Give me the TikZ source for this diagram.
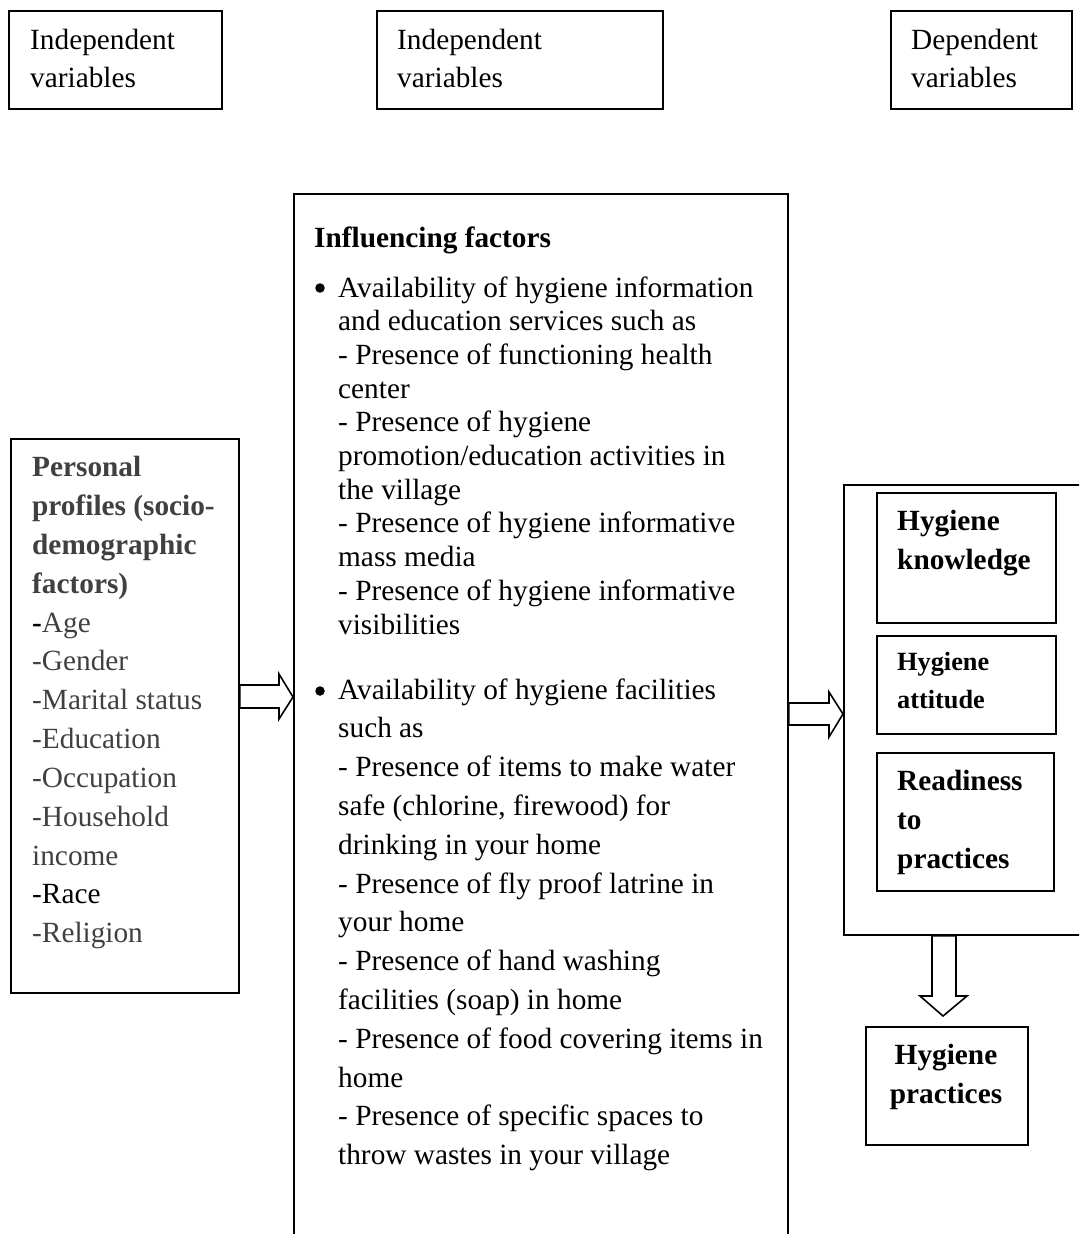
\documentclass[tikz,border=0pt]{standalone}
\usepackage{fontspec}
\setmainfont{Liberation Serif}
\definecolor{txtgray}{RGB}{64,64,64}
\begin{document}
\begin{tikzpicture}[x=1pt,y=-1pt,
  box/.style={draw,line width=1.8pt,rectangle,inner sep=0pt,anchor=north west},
  ln/.style={anchor=base west,inner sep=0pt,font=\fontsize{29.3}{34}\selectfont},
  bln/.style={anchor=base west,inner sep=0pt,font=\fontsize{29.3}{34}\selectfont\bfseries},
  sbln/.style={anchor=base west,inner sep=0pt,font=\fontsize{26.3}{30}\selectfont\bfseries},
  gln/.style={ln,text=txtgray},
  gbln/.style={bln,text=txtgray},
  bul/.style={circle,fill,inner sep=0pt,minimum size=9.5pt},
  fat/.style={draw,line width=1.6pt,fill=white,line join=miter}]
\useasboundingbox (0,0) rectangle (1079,1234);
\clip (0,0) rectangle (1079,1234);

% header boxes
\node[box,minimum width=213pt,minimum height=98pt] (iv1) at (8,10) {};
\node[box,minimum width=286pt,minimum height=98pt] (iv2) at (376,10) {};
\node[box,minimum width=181pt,minimum height=98pt] (dv) at (890,10) {};
\node[ln] (t1a) at (30,49) {Independent};
\node[ln] (t1b) at (30,87) {variables};
\node[ln] (t2a) at (397,49) {Independent};
\node[ln] (t2b) at (397,87) {variables};
\node[ln] (t3a) at (911,49) {Dependent};
\node[ln] (t3b) at (911,87) {variables};

% main boxes
\node[box,minimum width=228pt,minimum height=554pt] (pp) at (10,438) {};
\node[box,minimum width=494pt,minimum height=1100pt] (inf) at (293,193) {};
\node[box,minimum width=300pt,minimum height=450pt] (out) at (843,484) {};
\node[box,minimum width=179pt,minimum height=130pt] (kn) at (876,492) {};
\node[box,minimum width=179pt,minimum height=98pt] (at) at (876,635) {};
\node[box,minimum width=177pt,minimum height=138pt] (rd) at (876,752) {};
\node[box,minimum width=162pt,minimum height=118pt] (hp) at (865,1026) {};

% arrows
\draw[fat] (pp.east |- 0,685) -- (279,685) -- (279,674) -- (inf.west |- 0,697)
  -- (279,719) -- (279,708) -- (pp.east |- 0,708) -- cycle;
\draw[fat] (inf.east |- 0,703) -- (829,703) -- (829,692) -- (out.west |- 0,714)
  -- (829,737) -- (829,725) -- (inf.east |- 0,725) -- cycle;
\draw[fat] (932,0 |- out.south) -- (932,996) -- (920,996) -- (943,1016)
  -- (967,996) -- (956,996) -- (956,0 |- out.south) -- cycle;

% left box text
\node[gbln] (p1) at (32,476) {Personal};
\node[gbln] (p2) at (32,515) {profiles (socio-};
\node[gbln] (p3) at (32,554) {demographic};
\node[gbln] (p4) at (32,593) {factors)};
\node[ln] (p5) at (32,632) {\textbf{-}\textcolor{txtgray}{Age}};
\node[gln] (p6) at (32,670) {-Gender};
\node[gln] (p7) at (32,709) {-Marital status};
\node[gln] (p8) at (32,748) {-Education};
\node[gln] (p9) at (32,787) {-Occupation};
\node[gln] (p10) at (32,826) {-Household};
\node[gln] (p11) at (32,865) {income};
\node[ln] (p12) at (32,903) {-Race};
\node[gln] (p13) at (32,942) {-Religion};

% middle box text
\node[bln] (ift) at (314,247) {Influencing factors};
\node[bul] (b1) at (320,288) {};
\foreach \yy/\tt [count=\i] in {
  297/{Availability of hygiene information},
  330.7/{and education services such as},
  364.4/{- Presence of functioning health},
  398.1/{center},
  431.8/{- Presence of hygiene},
  465.5/{promotion/education activities in},
  499.2/{the village},
  532.9/{- Presence of hygiene informative},
  566.6/{mass media},
  600.3/{- Presence of hygiene informative},
  634/{visibilities}}
  \node[ln] (ma\i) at (338,\yy) {\tt};
\node[bul] (b2) at (320,691) {};
\foreach \yy/\tt [count=\i] in {
  699/{Availability of hygiene facilities},
  737.8/{such as},
  776.6/{- Presence of items to make water},
  815.4/{safe (chlorine, firewood) for},
  854.2/{drinking in your home},
  893/{- Presence of fly proof latrine in},
  931.8/{your home},
  970.6/{- Presence of hand washing},
  1009.4/{facilities (soap) in home},
  1048.2/{- Presence of food covering items in},
  1087/{home},
  1125.8/{- Presence of specific spaces to},
  1164.6/{throw wastes in your village}}
  \node[ln] (mb\i) at (338,\yy) {\tt};

% right box text
\node[bln] (k1) at (897,530) {Hygiene};
\node[bln] (k2) at (897,569) {knowledge};
\node[sbln] (a1) at (897,670) {Hygiene};
\node[sbln] (a2) at (897,708) {attitude};
\node[bln] (r1) at (897,790) {Readiness};
\node[bln] (r2) at (897,829) {to};
\node[bln] (r3) at (897,868) {practices};
\node[bln,anchor=base] (h1) at (946,1064) {Hygiene};
\node[bln,anchor=base] (h2) at (946,1103) {practices};
\end{tikzpicture}
\end{document}
